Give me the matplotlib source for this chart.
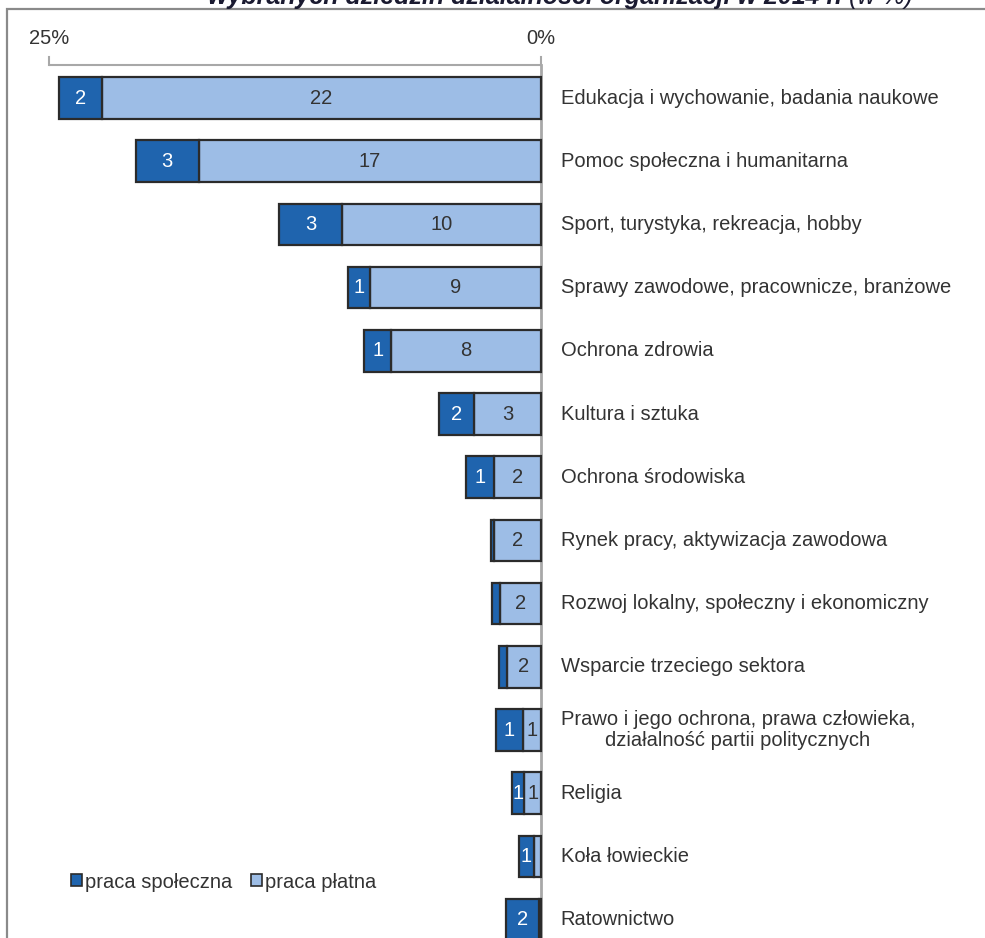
import matplotlib
matplotlib.use("Agg")
import matplotlib.pyplot as plt
from matplotlib.patches import Rectangle, Patch

plt.rcParams['font.family'] = ['Liberation Sans', 'DejaVu Sans']

categories = [
    "Edukacja i wychowanie, badania naukowe",
    "Pomoc społeczna i humanitarna",
    "Sport, turystyka, rekreacja, hobby",
    "Sprawy zawodowe, pracownicze, branżowe",
    "Ochrona zdrowia",
    "Kultura i sztuka",
    "Ochrona środowiska",
    "Rynek pracy, aktywizacja zawodowa",
    "Rozwoj lokalny, społeczny i ekonomiczny",
    "Wsparcie trzeciego sektora",
    "Prawo i jego ochrona, prawa człowieka,\ndziałalność partii politycznych",
    "Religia",
    "Koła łowieckie",
    "Ratownictwo",
]
praca_spoleczna = [2.2, 3.2, 3.2, 1.1, 1.4, 1.8, 1.4, 0.15, 0.37, 0.36, 1.34, 0.61, 0.75, 1.66]
praca_platna = [22.3, 17.4, 10.1, 8.7, 7.6, 3.4, 2.4, 2.4, 2.1, 1.75, 0.94, 0.85, 0.37, 0.1]
series_names = ["praca społeczna", "praca płatna"]
axis_ticks = [25, 0]
title = "wybranych dziedzin działalności organizacji w 2014 r."
title_suffix = " (w %)"

DARK = "#1f64ae"
LIGHT = "#9dbde6"
EDGE = "#2b2b2b"
GRID = "#a8a8a8"
TXT = "#333333"
TITLE_C = "#1a1a30"

fig = plt.figure(figsize=(9.85, 9.38), dpi=100)
ax = fig.add_axes([0, 0, 1, 1])
ax.set_xlim(541 / 19.68, -444 / 19.68)
ax.set_ylim((938 - 98) / 63.2, -98 / 63.2)
ax.axis('off')

ypos = list(range(len(categories)))
h = 0.66
ax.barh(ypos, praca_platna, left=0, height=h, color=LIGHT, edgecolor=EDGE, linewidth=1.6, zorder=3)
ax.barh(ypos, praca_spoleczna, left=praca_platna, height=h, color=DARK, edgecolor=EDGE, linewidth=1.6, zorder=3)

for i in ypos:
    p = praca_platna[i]
    s = praca_spoleczna[i]
    if p >= 0.5:
        ax.text(p / 2, i, f"{round(p)}", ha='center', va='center', fontsize=14.5, color=TXT, zorder=4)
    if s >= 0.5:
        ax.text(p + s / 2, i, f"{round(s)}", ha='center', va='center', fontsize=14.5, color='white', zorder=4)
    ax.text(-1.0, i, categories[i], ha='left', va='center', fontsize=14.5, color=TXT,
            multialignment='center', linespacing=1.15)

# top axis
ytop = -0.522
ax.plot([axis_ticks[0], axis_ticks[1]], [ytop, ytop], color=GRID, lw=1.5, zorder=2, solid_capstyle='butt')
for t in axis_ticks:
    ax.plot([t, t], [ytop, ytop - 0.13], color=GRID, lw=1.5, zorder=2)
    ax.text(t, ytop - 0.42, f"{t}%", ha='center', va='center', fontsize=14.5, color=TXT)
ax.plot([0, 0], [ytop, 14], color=GRID, lw=2, zorder=2)

# frame
fig.patches.append(Rectangle((7 / 985, -0.05), 1.2, 1 - 9 / 938 + 0.05, transform=fig.transFigure,
                             fill=False, edgecolor='#8a8a8a', lw=1.6))

# title (partly cut at the top, as in the reference)
ty = 1 - 4 / 938
t1 = fig.text(525 / 985, ty, title, ha='center', va='baseline', fontsize=18,
              fontweight='bold', fontstyle='italic', color=TITLE_C)
fig.canvas.draw()
bb = t1.get_window_extent()
fig.text(bb.x1 / fig.bbox.width, ty, title_suffix, ha='left', va='baseline', fontsize=18,
         fontstyle='italic', color=TITLE_C)

handles = [Patch(facecolor=DARK, edgecolor=EDGE, lw=1.2), Patch(facecolor=LIGHT, edgecolor=EDGE, lw=1.2)]
fig.legend(handles, series_names, loc='center left', bbox_to_anchor=(53 / 985, 1 - 882 / 938), ncol=2,
           frameon=False, fontsize=14.5, handlelength=0.55, handleheight=0.55, handletextpad=0.15,
           columnspacing=0.9, labelcolor=TXT)

fig.savefig("out.png", dpi=100)
